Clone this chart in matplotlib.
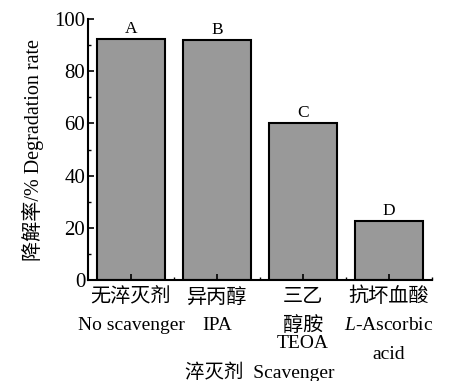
import matplotlib
matplotlib.use("Agg")
import matplotlib.pyplot as plt
from matplotlib.ticker import MultipleLocator

plt.rcParams['font.family'] = ['Liberation Serif', 'Noto Sans CJK SC']
plt.rcParams['mathtext.fontset'] = 'custom'
plt.rcParams['mathtext.rm'] = 'Liberation Serif'
plt.rcParams['mathtext.it'] = 'Liberation Serif:italic'

# data
values = [92.3, 92.0, 60.2, 22.6]
letters = ["A", "B", "C", "D"]
zh_lines = [["无淬灭剂"], ["异丙醇"], ["三乙", "醇胺"], ["抗坏血酸"]]
en_lines = [["No scavenger"], ["IPA"], ["TEOA"], [r"$\mathit{L}$-Ascorbic", "acid"]]
xlabel = "淬灭剂  Scavenger"
ylabel = "降解率/% Degradation rate"

fig = plt.figure(figsize=(4.51, 3.81), dpi=100)
ax = fig.add_axes([0.195, 0.265, 0.763, 0.685])

x = list(range(len(values)))
bars = ax.bar(x, values, width=0.8, color="#999999", edgecolor="black", linewidth=1.5)
for xi, v, l in zip(x, values, letters):
    ax.text(xi, v + 0.8, l, ha="center", va="bottom", fontsize=12.5)

ax.set_xlim(-0.5, 3.5)
ax.set_ylim(0, 100)
ax.spines['top'].set_visible(False)
ax.spines['right'].set_visible(False)
for s in ['left', 'bottom']:
    ax.spines[s].set_linewidth(1.5)

ax.yaxis.set_major_locator(MultipleLocator(20))
ax.yaxis.set_minor_locator(MultipleLocator(10))
ax.set_xticks(x)
ax.set_xticks([0.5, 1.5, 2.5, 3.5], minor=True)
ax.set_xticklabels([])
ax.tick_params(axis='both', which='major', direction='in', length=4, width=1.2, labelsize=15)
ax.tick_params(axis='both', which='minor', direction='in', length=2, width=1.0)
ax.tick_params(axis='y', pad=2)

tr = ax.get_xaxis_transform()
# Chinese lines
zh_y = [-0.065, -0.176]
for xi, lines in zip(x, zh_lines):
    for j, t in enumerate(lines):
        ax.text(xi, zh_y[j], t, transform=tr, ha="center", va="center", fontsize=14.5,
                family=['Noto Sans CJK SC'])
# English lines
for xi, lines, zl in zip(x, en_lines, zh_lines):
    if len(zl) == 2:
        ys = [-0.245]
    else:
        ys = [-0.176, -0.287]
    for j, t in enumerate(lines):
        ax.text(xi, ys[j], t, transform=tr, ha="center", va="center", fontsize=14)

ax.text(0.5, -0.352, xlabel, transform=ax.transAxes, ha="center", va="center", fontsize=14,
        family=['Liberation Serif', 'Noto Sans CJK SC'])
ax.text(-0.16, 0.5, ylabel, transform=ax.transAxes, ha="center", va="center", rotation=90,
        fontsize=14.5, family=['Liberation Serif', 'Noto Sans CJK SC'])

fig.savefig("out.png", dpi=100)
